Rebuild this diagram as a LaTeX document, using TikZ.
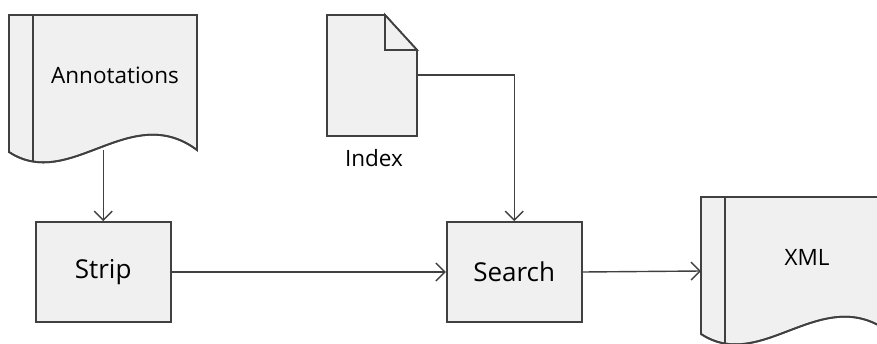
\documentclass[tikz,border=0pt]{standalone}
\usepackage{fontspec}
\setmainfont{Open Sans}
\usetikzlibrary{arrows.meta}
\definecolor{fillc}{HTML}{F0F0F0}
\definecolor{linec}{HTML}{404040}
\tikzset{
  shapeline/.style={draw=linec, line width=1.8pt, fill=fillc, line join=miter},
  procbox/.style={shapeline, rectangle, minimum width=135pt, minimum height=100pt, inner sep=0pt, text=black, font=\fontsize{26}{30}\selectfont},
  lbl/.style={font=\fontsize{22.5}{27}\selectfont, inner sep=0pt, text=black},
  conn/.style={draw=linec, line width=1.4pt, -{Straight Barb[length=9pt,width=18pt]}},
  docpath/.pic={
    \path[shapeline] (0,0) -- (188,0) -- (188,135) .. controls (121,85) and (61,177) .. (0,137) -- cycle;
    \begin{scope}
      \clip (0,0) -- (188,0) -- (188,135) .. controls (121,85) and (61,177) .. (0,137) -- cycle;
      \draw[linec, line width=1.8pt] (24,0) -- (24,180);
    \end{scope}
    \path[draw=linec, line width=1.8pt] (0,0) -- (188,0) -- (188,135) .. controls (121,85) and (61,177) .. (0,137) -- cycle;
  }
}
\begin{document}
\begin{tikzpicture}[x=1pt, y=-1pt]
  \clip (0,0) rectangle (877,343);
  \useasboundingbox (0,0) rectangle (877,343);
  % Annotations document
  \pic at (9,15) {docpath};
  \node[lbl] (ann) at (115,75) {Annotations};
  % Index document
  \path[shapeline] (327,15) -- (385,15) -- (417,50) -- (417,136) -- (327,136) -- cycle;
  \path[shapeline] (385,15) -- (385,50) -- (417,50) -- cycle;
  \node[lbl] (idx) at (374,158) {Index};
  % XML document
  \pic at (701,197) {docpath};
  \node[lbl] (xml) at (807,257) {XML};
  % process boxes
  \node[procbox] (strip) at (103.2,272) {Strip};
  \node[procbox] (search) at (514.2,272) {Search};
  % connectors
  \coordinate (annB) at (103.2,150);
  \coordinate (idxR) at (417,75);
  \coordinate (xmlL) at (701,271);
  \draw[conn] (annB) -- (strip.north);
  \draw[conn] (strip.east) -- (search.west);
  \draw[conn] (idxR) -| (search.north);
  \draw[conn] (search.east) -- (xmlL);
\end{tikzpicture}
\end{document}
